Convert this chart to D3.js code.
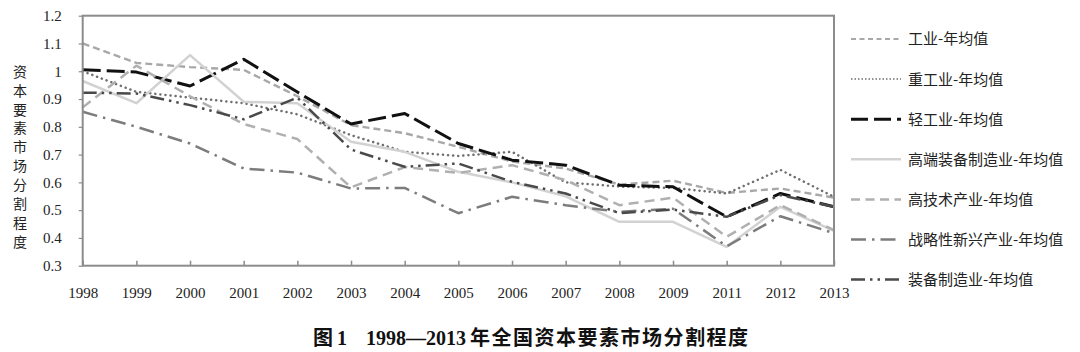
<!DOCTYPE html>
<html>
<head>
<meta charset="utf-8">
<script src="https://cdn.jsdelivr.net/npm/d3@7"></script>
<style>
  body { margin: 0; background: #fff; }
  svg { display: block; }
</style>
</head>
<body>
<div id="chart"></div>
<script>
var years = ["1998","1999","2000","2001","2002","2003","2004","2005","2006","2007","2008","2009","2011","2012","2013"];
var yTicks = [0.3,0.4,0.5,0.6,0.7,0.8,0.9,1,1.1,1.2];

var gongye      = [1.10,1.03,1.015,1.005,0.91,0.806,0.777,0.728,0.675,0.65,0.592,0.606,0.562,0.578,0.545];
var zhonggongye = [1.00,0.926,0.905,0.885,0.845,0.77,0.71,0.695,0.71,0.60,0.585,0.58,0.56,0.645,0.548];
var qinggongye  = [1.005,0.997,0.947,1.043,0.925,0.81,0.848,0.74,0.68,0.662,0.59,0.584,0.476,0.56,0.512];
var gaoduan     = [0.965,0.885,1.058,0.89,0.885,0.746,0.71,0.638,0.60,0.55,0.458,0.458,0.368,0.512,0.425];
var gaojishu    = [0.87,1.02,0.91,0.81,0.756,0.582,0.655,0.634,0.662,0.608,0.518,0.545,0.404,0.518,0.428];
var zhanlue     = [0.854,0.80,0.74,0.65,0.635,0.578,0.58,0.489,0.548,0.518,0.494,0.505,0.37,0.478,0.417];
var zhuangbei   = [0.923,0.92,0.878,0.827,0.905,0.718,0.656,0.668,0.602,0.56,0.489,0.502,0.476,0.554,0.512];

var seriesNames = ["工业-年均值","重工业-年均值","轻工业-年均值","高端装备制造业-年均值","高技术产业-年均值","战略性新兴产业-年均值","装备制造业-年均值"];
var seriesValues = [gongye, zhonggongye, qinggongye, gaoduan, gaojishu, zhanlue, zhuangbei];

// line styles, same order as the names
var styles = [
  {color: "#a8a8a8", width: 2.4, dash: "7,4",   cap: "butt"},
  {color: "#6f6f6f", width: 2.5, dash: "0.1,5", cap: "round"},
  {color: "#111111", width: 3,   dash: "18,6",  cap: "butt"},
  {color: "#d2d2d2", width: 2.5, dash: null,    cap: "butt"},
  {color: "#b0b0b0", width: 2.5, dash: "10,6",  cap: "butt"},
  {color: "#7c7c7c", width: 2.5, dash: "15,6,2.5,6", cap: "butt"},
  {color: "#4a4a4a", width: 2.5, dash: "14,5,2.5,5,2.5,5", cap: "butt"}
];
var legendDash = ["5,3.5", "1.5,2", "17,6", null, "9,5.5", "15,6,2.5,6", "14,5,2.5,5,2.5,5"];

var W = 1080, H = 352;
var plotLeft = 82.7, plotRight = 834, plotTop = 15.7, plotBottom = 265.7;

var svg = d3.select("#chart").append("svg")
  .attr("width", W)
  .attr("height", H);

var x = d3.scalePoint().domain(years).range([plotLeft, plotRight]).padding(0);
var y = d3.scaleLinear().domain([0.3, 1.2]).range([plotBottom, plotTop]);

// x axis, ticks point into the plot
var xAxis = svg.append("g")
  .attr("transform", "translate(0," + plotBottom + ")")
  .call(d3.axisBottom(x).tickSizeInner(-5).tickSizeOuter(0).tickPadding(22));
xAxis.select(".domain").remove();
xAxis.selectAll("line").attr("stroke", "#8c8c8c").attr("stroke-width", 1.5);
xAxis.selectAll("text")
  .attr("font-family", "'Liberation Serif', 'Times New Roman', serif")
  .attr("font-size", 15)
  .attr("fill", "#222");

// y axis
var yAxis = svg.append("g")
  .attr("transform", "translate(" + plotLeft + ",0)")
  .call(d3.axisLeft(y).tickValues(yTicks).tickFormat(d3.format("~g")).tickSizeInner(4).tickSizeOuter(0).tickPadding(17));
yAxis.select(".domain").remove();
yAxis.selectAll("line").attr("stroke", "#8c8c8c").attr("stroke-width", 1.2);
yAxis.selectAll("text")
  .attr("font-family", "'Liberation Serif', 'Times New Roman', serif")
  .attr("font-size", 15)
  .attr("fill", "#222");

// lines
var line = d3.line()
  .x(function(d, i) { return x(years[i]); })
  .y(function(d) { return y(d); });

for (var i = 0; i < seriesValues.length; i++) {
  var s = styles[i];
  svg.append("path")
    .datum(seriesValues[i])
    .attr("fill", "none")
    .attr("stroke", s.color)
    .attr("stroke-width", s.width)
    .attr("stroke-dasharray", s.dash)
    .attr("stroke-linecap", s.cap)
    .attr("stroke-linejoin", "round")
    .attr("d", line);
}

// plot frame
svg.append("rect")
  .attr("x", plotLeft)
  .attr("y", plotTop)
  .attr("width", plotRight - plotLeft)
  .attr("height", plotBottom - plotTop)
  .attr("fill", "none")
  .attr("stroke", "#8c8c8c")
  .attr("stroke-width", 2);

// y title, one character under another
var yTitle = "资本要素市场分割程度".split("");
svg.append("g").selectAll("text")
  .data(yTitle)
  .enter()
  .append("text")
  .attr("x", 20)
  .attr("y", function(d, i) { return 71.7 + i * 18.9; })
  .attr("dy", "0.36em")
  .attr("text-anchor", "middle")
  .attr("font-family", "'Noto Sans CJK SC', sans-serif")
  .attr("font-size", 14)
  .attr("fill", "#222")
  .text(function(d) { return d; });

// legend
var legend = svg.append("g").selectAll("g")
  .data(seriesNames)
  .enter()
  .append("g")
  .attr("transform", function(d, i) { return "translate(851," + (39 + i * 40.1) + ")"; });

legend.append("line")
  .attr("x1", 0).attr("x2", 50)
  .attr("y1", 0).attr("y2", 0)
  .attr("stroke", function(d, i) { return styles[i].color; })
  .attr("stroke-width", function(d, i) { return i == 1 ? 1.5 : (i == 0 ? 2 : styles[i].width); })
  .attr("stroke-dasharray", function(d, i) { return legendDash[i]; });

legend.append("text")
  .attr("x", 57)
  .attr("dy", "0.36em")
  .attr("font-family", "'Noto Sans CJK SC', sans-serif")
  .attr("font-size", 15)
  .attr("fill", "#222")
  .text(function(d) { return d; });

// caption
var cap = svg.append("text")
  .attr("x", 313)
  .attr("y", 338)
  .attr("dy", "0.36em")
  .attr("font-weight", "bold")
  .attr("font-size", 20)
  .attr("fill", "#111");
cap.append("tspan").attr("font-family", "'Noto Sans CJK SC', sans-serif").text("图");
cap.append("tspan").attr("font-family", "'Liberation Serif', serif").attr("dx", 4).text("1");
cap.append("tspan").attr("font-family", "'Liberation Serif', serif").attr("dx", 20).text("1998—2013");
cap.append("tspan").attr("font-family", "'Noto Sans CJK SC', sans-serif").attr("dx", 4).attr("letter-spacing", 1.5).text("年全国资本要素市场分割程度");
</script>
</body>
</html>
